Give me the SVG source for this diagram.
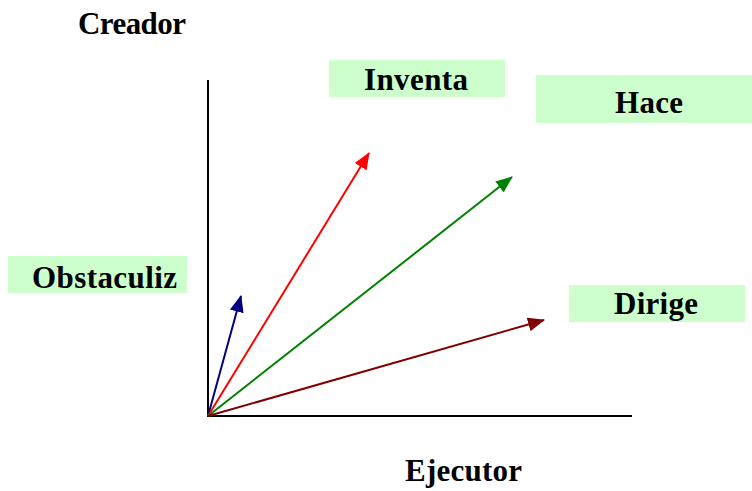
<svg xmlns="http://www.w3.org/2000/svg" width="752" height="491" viewBox="0 0 752 491">
<style>
.lbl{font-family:"Liberation Serif","Times New Roman",serif;font-weight:bold;font-size:31px;fill:#000}
.box{fill:#ccffcc}
.ax{stroke:#000;stroke-width:2;fill:none}
</style>
<defs>
<marker id="mb" viewBox="0 0 17 14" refX="16" refY="7" markerWidth="17" markerHeight="14" markerUnits="userSpaceOnUse" orient="auto"><path d="M0,0L17,7L0,14Z" fill="#000080"/></marker>
<marker id="mr" viewBox="0 0 17 14" refX="16" refY="7" markerWidth="17" markerHeight="14" markerUnits="userSpaceOnUse" orient="auto"><path d="M0,0L17,7L0,14Z" fill="#ff0000"/></marker>
<marker id="mg" viewBox="0 0 17 14" refX="16" refY="7" markerWidth="17" markerHeight="14" markerUnits="userSpaceOnUse" orient="auto"><path d="M0,0L17,7L0,14Z" fill="#008000"/></marker>
<marker id="mm" viewBox="0 0 17 14" refX="16" refY="7" markerWidth="17" markerHeight="14" markerUnits="userSpaceOnUse" orient="auto"><path d="M0,0L17,7L0,14Z" fill="#800000"/></marker>
</defs>
<rect width="752" height="491" fill="#fff"/>
<g id="axes">
<path class="ax" d="M208,80V416H632"/>
<text class="lbl" x="78" y="34" textLength="108">Creador</text>
<text class="lbl" x="405" y="481" textLength="117">Ejecutor</text>
</g>
<g id="connectors">
<line x1="208" y1="416" x2="241" y2="296" stroke="#000080" stroke-width="2" marker-end="url(#mb)"/>
<line x1="208" y1="416" x2="369" y2="153" stroke="#ff0000" stroke-width="2" marker-end="url(#mr)"/>
<line x1="208" y1="416" x2="512" y2="177" stroke="#008000" stroke-width="2" marker-end="url(#mg)"/>
<line x1="208" y1="416" x2="544" y2="320" stroke="#800000" stroke-width="2" marker-end="url(#mm)"/>
</g>
<g id="obstaculiz">
<rect class="box" x="8" y="256" width="179" height="37"/>
<text class="lbl" x="32" y="288" textLength="145">Obstaculiz</text>
</g>
<g id="inventa">
<rect class="box" x="329" y="60" width="176" height="37"/>
<text class="lbl" x="364" y="90" textLength="104">Inventa</text>
</g>
<g id="hace">
<rect class="box" x="536" y="75" width="216" height="48"/>
<text class="lbl" x="615" y="113" textLength="68">Hace</text>
</g>
<g id="dirige">
<rect class="box" x="569" y="285" width="176" height="37"/>
<text class="lbl" x="614" y="314" textLength="84">Dirige</text>
</g>
</svg>
